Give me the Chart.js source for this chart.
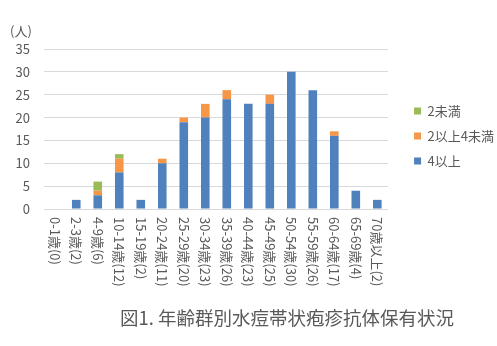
<!DOCTYPE html>
<html>
<head>
<meta charset="utf-8">
<script src="https://cdn.jsdelivr.net/npm/chart.js@4"></script>
<style>
  body { margin: 0; background: #fff; }
  #wrap { width: 497px; height: 346px; }
</style>
</head>
<body>
<div id="wrap"><canvas id="myChart" width="497" height="346"></canvas></div>
<script>
const categories = ['0-1歳(0)', '2-3歳(2)', '4-9歳(6)', '10-14歳(12)', '15-19歳(2)', '20-24歳(11)',
  '25-29歳(20)', '30-34歳(23)', '35-39歳(26)', '40-44歳(23)', '45-49歳(25)', '50-54歳(30)',
  '55-59歳(26)', '60-64歳(17)', '65-69歳(4)', '70歳以上(2)'];
const over4 = [0, 2, 3, 8, 2, 10, 19, 20, 24, 23, 23, 30, 26, 16, 4, 2];
const from2to4 = [0, 0, 1, 3, 0, 1, 1, 3, 2, 0, 2, 0, 0, 1, 0, 0];
const under2 = [0, 0, 2, 1, 0, 0, 0, 0, 0, 0, 0, 0, 0, 0, 0, 0];
const yTicks = [0, 5, 10, 15, 20, 25, 30, 35];
const chartTitle = '図1. 年齢群別水痘帯状疱疹抗体保有状況';
const unitLabel = '(人)';

const font = '"Noto Sans CJK JP", "Noto Sans", sans-serif';
const textColor = '#595959';

// x labels are drawn turned clockwise, title and unit by hand
const extraText = {
  id: 'extraText',
  beforeLayout(chart) {
    // legend takes a bit more room and sits further right
    const lg = chart.legend;
    if (lg && !lg._wider) {
      const fit = lg.fit.bind(lg);
      lg.fit = function () { fit(); this.width += 7; };
      lg._wider = true;
    }
  },
  afterLayout(chart) {
    if (chart.legend) {
      chart.legend.left += 14;
      chart.legend.top += 3;
      chart.legend.bottom += 3;
    }
  },
  afterDraw(chart) {
    const ctx = chart.ctx;
    const xs = chart.scales.x;
    ctx.save();
    ctx.fillStyle = textColor;
    ctx.font = '13px ' + font;
    ctx.textAlign = 'left';
    ctx.textBaseline = 'middle';
    categories.forEach((c, i) => {
      ctx.save();
      ctx.translate(xs.getPixelForValue(i), chart.chartArea.bottom + 8);
      ctx.rotate(Math.PI / 2);
      ctx.fillText(c, 0, 0);
      ctx.restore();
    });
    ctx.font = '13px ' + font;
    ctx.fillText(unitLabel, 10, 31);
    ctx.font = '18.5px ' + font;
    ctx.textAlign = 'center';
    ctx.fillText(chartTitle, 287, 318);
    ctx.restore();
  }
};

const ctx = document.getElementById('myChart');
new Chart(ctx, {
  type: 'bar',
  data: {
    labels: categories,
    datasets: [
      { label: '4以上', data: over4, backgroundColor: '#4F81BD' },
      { label: '2以上4未満', data: from2to4, backgroundColor: '#F79646' },
      { label: '2未満', data: under2, backgroundColor: '#9BBB59' }
    ]
  },
  options: {
    responsive: false,
    maintainAspectRatio: false,
    animation: false,
    barPercentage: 0.5,
    categoryPercentage: 0.8,
    layout: { padding: { top: 49, bottom: 129, left: 0, right: 0 } },
    scales: {
      x: {
        stacked: true,
        grid: { display: false },
        border: { display: false },
        ticks: { display: false }
      },
      y: {
        stacked: true,
        min: 0,
        max: 35,
        afterBuildTicks: s => { s.ticks = yTicks.map(v => ({ value: v })); },
        afterFit: s => { s.width = 44; },
        grid: { color: '#D9D9D9', lineWidth: 1, drawTicks: false },
        border: { display: false },
        ticks: { color: textColor, padding: 14, font: { family: font, size: 13 } }
      }
    },
    plugins: {
      legend: {
        position: 'right',
        reverse: true,
        labels: {
          boxWidth: 7,
          boxHeight: 7,
          padding: 12,
          color: textColor,
          font: { family: font, size: 13 }
        }
      },
      tooltip: { enabled: false }
    }
  },
  plugins: [extraText]
});
</script>
</body>
</html>
